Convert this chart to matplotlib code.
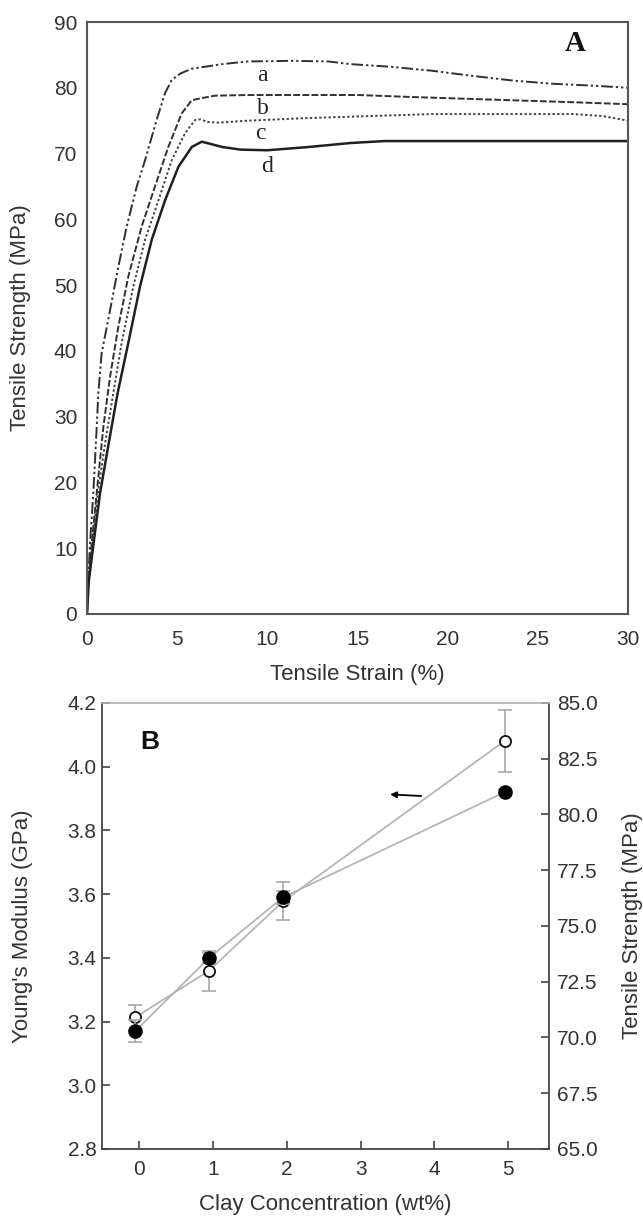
import numpy as np
import matplotlib.pyplot as plt
from matplotlib.ticker import FormatStrFormatter

plt.rcParams['font.family'] = ['Liberation Sans', 'DejaVu Sans']

# Panel A: stress-strain curves (strain %, stress MPa)
a_strain = [0, 0.05, 0.17, 0.35, 0.54, 0.63, 0.81, 1.28, 1.74, 2.2, 2.76, 3.22, 3.86, 4.33,
            4.7, 5.2, 5.81, 7.5, 8.9, 11.4, 13.4, 14.6, 16.8, 19.1, 21.4, 23.6, 25.9, 28.2, 30]
a_stress = [0, 4, 10.8, 18.4, 28.5, 33.6, 39.6, 46.2, 52.8, 58.9, 65.0, 69.0, 75.1, 79.2,
            81.2, 82.2, 82.9, 83.6, 84.0, 84.1, 84.0, 83.6, 83.2, 82.6, 81.8, 81.1, 80.6, 80.3, 80.0]

b_strain = [0, 0.05, 0.26, 0.54, 0.91, 1.28, 1.74, 2.29, 3.03, 3.77, 4.51, 5.25, 5.81, 6.3,
            7.1, 8.9, 15, 18, 20.2, 23.6, 27, 30]
b_stress = [0, 4, 10.8, 18.4, 28.5, 36.1, 43.7, 51.3, 58.9, 65.0, 71.0, 76.1, 78.1, 78.4,
            78.8, 78.9, 78.9, 78.6, 78.4, 78.1, 77.8, 77.5]

c_strain = [0, 0.05, 0.3, 0.6, 1.0, 1.46, 1.92, 2.57, 3.22, 3.96, 4.7, 5.44, 5.99, 6.3,
            6.7, 7.3, 8.9, 12.3, 15.7, 19.1, 22.5, 27, 28.6, 30]
c_stress = [0, 4, 10.8, 18.3, 25.9, 33.6, 41.2, 49.8, 56.9, 62.9, 69.0, 73.1, 75.1, 75.2,
            74.8, 74.7, 75.0, 75.4, 75.7, 76.0, 76.0, 76.0, 75.7, 75.0]

d_strain = [0, 0.1, 0.4, 0.72, 1.2, 1.7, 2.29, 2.94, 3.59, 4.33, 5.07, 5.81, 6.36, 6.8,
            7.5, 8.5, 10, 12.3, 14.6, 16.5, 30]
d_stress = [0, 5, 11.5, 18.3, 25.9, 33.6, 41.2, 49.8, 56.9, 62.9, 68.0, 71.0, 71.8, 71.5,
            71.0, 70.6, 70.5, 71.0, 71.6, 71.9, 71.9]

# Panel B: properties vs clay content
clay = [0, 1, 2, 5]
modulus = [3.17, 3.40, 3.59, 3.92]
modulus_err = [0.035, 0.015, 0.02, 0.01]
strength = [70.9, 73.0, 76.1, 83.3]
strength_err = [0.55, 0.9, 0.85, 1.4]

txt = '#333333'
fig = plt.figure(figsize=(6.43, 12.16), dpi=100)

# ---- panel A
ax1 = fig.add_axes([0.1353, 0.4951, 0.8414, 0.4868])
ax1.plot(a_strain, a_stress, color='#303030', lw=1.4, dashes=[6, 1.5, 1.2, 1.5, 1.2, 1.5])
ax1.plot(b_strain, b_stress, color='#303030', lw=1.4, dashes=[3.5, 1.2])
ax1.plot(c_strain, c_stress, color='#404040', lw=1.4, dashes=[1.2, 1.2])
ax1.plot(d_strain, d_stress, color='#202020', lw=1.8)

for lab, x, y in [('a', 9.74, 81.9), ('b', 9.78, 76.9), ('c', 9.6, 73.1), ('d', 9.97, 68.0)]:
    ax1.text(x, y, lab, family='Liberation Serif', fontsize=17, ha='center', va='center', color='#222')
ax1.text(27.07, 86.8, 'A', family='Liberation Serif', fontsize=21, fontweight='bold',
         ha='center', va='center', color='#111')

ax1.set_xlim(0, 30)
ax1.set_ylim(0, 90)
ax1.set_xticks(range(0, 31, 5))
ax1.set_yticks(range(0, 91, 10))
ax1.tick_params(axis='both', length=0, labelsize=15, labelcolor=txt)
ax1.tick_params(axis='x', pad=11.5)
ax1.tick_params(axis='y', pad=7)
for s in ax1.spines.values():
    s.set_color('#555555')
    s.set_linewidth(1.5)
ax1.set_xlabel('Tensile Strain (%)', fontsize=16, color=txt)
ax1.xaxis.set_label_coords(0.5, -0.0845)
ax1.set_ylabel('Tensile Strength (MPa)', fontsize=16, color=txt)
ax1.yaxis.set_label_coords(-0.1035, 0.5)

# ---- panel B
ax2 = fig.add_axes([0.1586, 0.0551, 0.6952, 0.3668])
ax3 = ax2.twinx()
xs = np.array(clay) - 0.05

ax3.plot(xs, strength, color='#b5b5b5', lw=1.3, zorder=1)
ax3.errorbar(xs, strength, yerr=strength_err, fmt='none', ecolor='#a8a8a8',
             elinewidth=1.2, capsize=5, capthick=1.2, zorder=2)
ax3.plot(xs, strength, 'o', ms=8, mfc='white', mec='#111', mew=1.3, zorder=3)

ax2.plot(xs, modulus, color='#b5b5b5', lw=1.3, zorder=1)
ax2.errorbar(xs, modulus, yerr=modulus_err, fmt='none', ecolor='#a8a8a8',
             elinewidth=1.2, capsize=5, capthick=1.2, zorder=2)
ax2.set_zorder(ax3.get_zorder() + 1)
ax2.patch.set_visible(False)
ax2.plot(xs, modulus, 'o', ms=9.5, color='black', zorder=4)

ax2.annotate('', xy=(3.40, 3.913), xytext=(3.82, 3.908),
             arrowprops=dict(arrowstyle='-|>', color='black', lw=1.3,
                             mutation_scale=9, shrinkA=0, shrinkB=0))
ax2.text(0.15, 4.078, 'B', fontsize=19, fontweight='bold', ha='center', va='center', color='#111')

ax2.set_xlim(-0.5, 5.55)
ax2.set_ylim(2.8, 4.2)
ax2.set_xticks(clay + [3, 4])
ax2.set_yticks(np.arange(2.8, 4.21, 0.2))
ax2.yaxis.set_major_formatter(FormatStrFormatter('%.1f'))
ax3.set_ylim(65, 85)
ax3.set_yticks(np.arange(65, 85.1, 2.5))
ax3.yaxis.set_major_formatter(FormatStrFormatter('%.1f'))

ax2.tick_params(direction='in', length=6, width=1.2, color='#444', labelsize=15, labelcolor=txt)
ax2.tick_params(axis='x', pad=8)
ax2.tick_params(axis='y', pad=4)
ax3.tick_params(direction='in', length=6, width=1.2, color='#444', labelsize=15, labelcolor=txt, pad=5.5)

for name in ['left', 'bottom']:
    ax2.spines[name].set_color('#444')
    ax2.spines[name].set_linewidth(1.3)
ax2.spines['top'].set_color('#b0b0b0')
ax2.spines['top'].set_linewidth(1.2)
ax2.spines['right'].set_visible(False)
for name in ['left', 'bottom', 'top']:
    ax3.spines[name].set_visible(False)
ax3.spines['right'].set_color('#444')
ax3.spines['right'].set_linewidth(1.3)

ax2.set_xlabel('Clay Concentration (wt%)', fontsize=16, color=txt)
ax2.xaxis.set_label_coords(0.5, -0.101)
ax2.set_ylabel("Young's Modulus (GPa)", fontsize=16, color=txt)
ax2.yaxis.set_label_coords(-0.154, 0.5)
ax3.set_ylabel('Tensile Strength (MPa)', fontsize=16, color=txt, rotation=90)
ax3.yaxis.set_label_coords(1.163, 0.5)

fig.savefig('out.png', dpi=100)
